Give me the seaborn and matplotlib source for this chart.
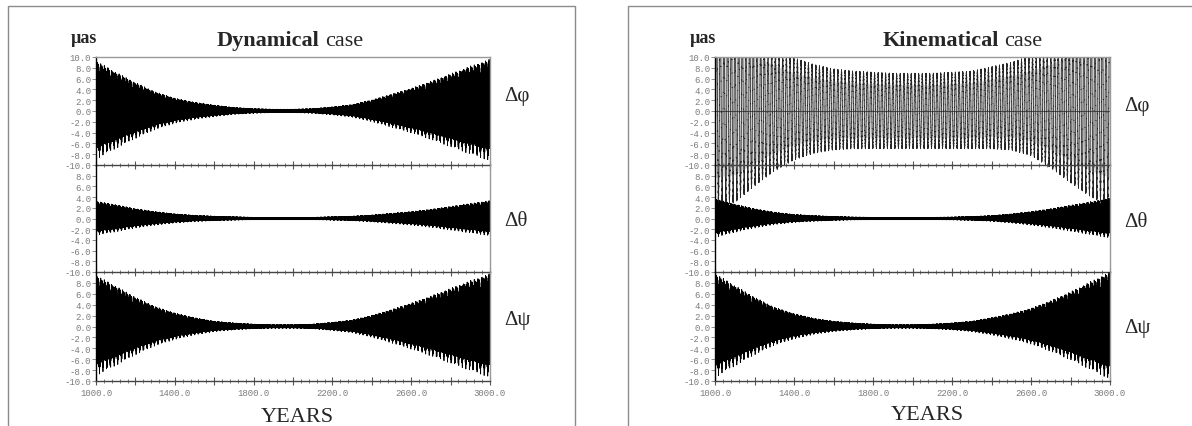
import numpy as np
import matplotlib
matplotlib.use("Agg")
import matplotlib.pyplot as plt
import seaborn as sns
from matplotlib.patches import Rectangle

# ---------------- data ----------------
env_years = [1000, 1100, 1200, 1300, 1400, 1500, 1600, 1700, 1800, 1900, 2000,
             2100, 2200, 2300, 2400, 2500, 2600, 2700, 2800, 2900, 3000]

# half-width of the oscillation envelope (µas)
dyn_dphi_amp = [8.6, 6.7, 4.9, 3.3, 2.2, 1.5, 1.0, 0.6, 0.4, 0.3, 0.3,
                0.4, 0.7, 1.1, 1.9, 2.9, 3.9, 5.1, 6.4, 7.7, 8.9]
dyn_dtheta_amp = [3.0, 2.4, 1.7, 1.2, 0.8, 0.55, 0.4, 0.3, 0.2, 0.15, 0.15,
                  0.2, 0.3, 0.4, 0.6, 0.9, 1.2, 1.6, 2.1, 2.6, 3.1]
dyn_dpsi_amp = [8.7, 6.9, 5.0, 3.4, 2.3, 1.5, 0.9, 0.6, 0.4, 0.3, 0.3,
                0.4, 0.7, 1.1, 1.9, 2.9, 4.0, 5.2, 6.5, 7.8, 9.0]

kin_dphi_amp = [17.5, 16.8, 13.8, 11.2, 9.2, 8.0, 7.3, 7.0, 6.9, 6.8, 6.8,
                6.8, 6.9, 7.0, 7.4, 7.9, 9.0, 11.0, 13.5, 15.8, 17.5]
kin_dphi_mid = [0.3, 0.3, 0.3, 0.4, 0.4, 0.4, 0.3, 0.2, 0.1, 0.0, 0.0,
                0.0, 0.1, 0.2, 0.6, 0.9, 1.0, 0.8, 0.6, 0.4, 0.3]
kin_dtheta_amp = [3.4, 2.5, 1.7, 1.1, 0.7, 0.5, 0.35, 0.25, 0.2, 0.15, 0.15,
                  0.2, 0.25, 0.35, 0.5, 0.8, 1.2, 1.7, 2.3, 2.9, 3.5]
kin_dpsi_amp = [9.0, 7.0, 5.0, 3.3, 2.2, 1.4, 0.9, 0.6, 0.4, 0.3, 0.3,
                0.4, 0.6, 0.9, 1.5, 2.2, 3.1, 4.4, 5.9, 7.6, 9.3]

# nutation periods (years) and weights of the carrier oscillation
carrier_periods = [0.5, 1.0, 0.3, 18.6, 9.3]
carrier_weights = [0.6, 0.24, 0.18, 0.12, 0.07]
carrier_phases = [0.0, 1.1, 2.3, 0.4, 2.0]
nodal_period = 18.6

panel_titles = [("Dynamical", "case"), ("Kinematical", "case")]
row_labels = ["Δφ", "Δθ", "Δψ"]
unit_label = "µas"
x_label = "YEARS"
x_range = (1000, 3000)
y_range = (-10, 10)

# ---------------- figure ----------------
sns.set_theme(style="white")
plt.rcParams["font.family"] = ["Liberation Serif", "DejaVu Serif"]
plt.rcParams["axes.unicode_minus"] = False
plt.rcParams["path.simplify"] = False

W, H = 1192, 427
fig = plt.figure(figsize=(W / 100, H / 100), dpi=100)
fig.patch.set_facecolor("white")

def fx(px):
    return px / W

def fy(py):
    return 1 - py / H

t = np.arange(x_range[0], x_range[1] + 1e-9, 0.02)
carrier = np.zeros_like(t)
for p, w, ph in zip(carrier_periods, carrier_weights, carrier_phases):
    carrier += w * np.sin(2 * np.pi * t / p + ph)

def env(a):
    return np.interp(t, env_years, a)

kin_mid = env(kin_dphi_mid)
kin_amp = env(kin_dphi_amp)
series = {
    0: [env(dyn_dphi_amp) * carrier, env(dyn_dtheta_amp) * carrier, env(dyn_dpsi_amp) * carrier],
    1: [kin_mid + kin_amp * np.sin(2 * np.pi * t / nodal_period + 0.3)
        + 0.03 * kin_amp * np.sin(2 * np.pi * t / 0.5),
        env(kin_dtheta_amp) * carrier, env(kin_dpsi_amp) * carrier],
}

rows = [(58, 166), (166, 273), (273, 382)]
panels = [(96, 490), (715, 1110)]

# panel frames
fig.add_artist(Rectangle((fx(8), -0.05), fx(575) - fx(8), fy(7) + 0.05,
                         transform=fig.transFigure, fill=False, ec="#8c8c8c", lw=1.0))
fig.add_artist(Rectangle((fx(628), -0.05), 1.1, fy(7) + 0.05,
                         transform=fig.transFigure, fill=False, ec="#8c8c8c", lw=1.0))

major_x = np.arange(1000, 3001, 200)
minor_x = np.arange(1000, 3001, 40)
mono = "Liberation Mono"
tick_grey = "#7c7c7c"

for pi, (x0, x1) in enumerate(panels):
    for ri, (y0, y1) in enumerate(rows):
        ax = fig.add_axes([fx(x0), fy(y1), fx(x1) - fx(x0), (y1 - y0) / H])
        ax.set_facecolor("none")
        y = series[pi][ri]
        kin_phi = (pi == 1 and ri == 0)
        if kin_phi:
            band = ax.fill_between(t, kin_mid - 0.72 * kin_amp, kin_mid + 0.72 * kin_amp,
                                   color="#9a9a9a", alpha=0.35, lw=0, zorder=1)
        ax.axhline(0, color="#555555", lw=0.8, zorder=1.5)
        sns.lineplot(x=t, y=y, ax=ax, color="#262626" if kin_phi else "black",
                     lw=0.55 if kin_phi else 0.6, estimator=None, errorbar=None,
                     sort=False, legend=False, zorder=2)
        line = ax.lines[-1]
        if kin_phi:
            for art in (line, band):
                clip = Rectangle((x_range[0], -30), x_range[1] - x_range[0], 40,
                                 transform=ax.transData)
                art.set_clip_path(clip)
        ax.set_xlim(*x_range)
        ax.set_ylim(*y_range)
        ax.set_xlabel("")
        ax.set_ylabel("")

        yt = np.arange(-10, 11 if ri == 0 else 9, 2)
        ax.set_yticks(yt, [f"{v:.1f}" for v in yt], fontfamily=mono,
                      fontsize=6.5, color=tick_grey)
        if ri == 2:
            ax.set_xticks(major_x, [f"{v:.1f}" if (v - 1000) % 400 == 0 else ""
                                    for v in major_x],
                          fontfamily=mono, fontsize=6.5, color=tick_grey)
        else:
            ax.set_xticks(major_x)
            ax.tick_params(axis="x", labelbottom=False)
        ax.set_xticks(minor_x, minor=True)
        ax.tick_params(axis="x", which="major", direction="inout", length=6,
                       width=0.8, color="#555555", pad=2, bottom=True)
        ax.tick_params(axis="x", which="minor", direction="inout", length=2.5,
                       width=0.6, color="#666666", bottom=True)
        ax.tick_params(axis="y", which="major", direction="out", length=3,
                       width=0.6, color=tick_grey, pad=0.5, left=True)

        for side in ["left", "right", "top", "bottom"]:
            ax.spines[side].set_visible(True)
        ax.spines["left"].set_color("black")
        ax.spines["left"].set_linewidth(1.0)
        ax.spines["bottom"].set_color("#444444")
        ax.spines["bottom"].set_linewidth(1.0)
        ax.spines["right"].set_color("#999999")
        ax.spines["right"].set_linewidth(1.0)
        ax.spines["top"].set_color("#999999")
        ax.spines["top"].set_linewidth(1.0)
        ax.spines["top"].set_visible(ri == 0)

# texts
unit_x = [71, 690]
title_split = [(319, 325), (999, 1004)]
title_base = 46
lab_x = [504, 1124]
lab_base = [[101, 226, 325], [111, 227, 333]]
years_x = [297, 927]
years_base = [422, 420]

for pi in range(2):
    fig.text(fx(unit_x[pi]), fy(43), unit_label, fontsize=13, fontweight="bold",
             ha="left", va="baseline")
    bold, normal = panel_titles[pi]
    fig.text(fx(title_split[pi][0]), fy(title_base), bold, fontsize=16,
             fontweight="bold", ha="right", va="baseline")
    fig.text(fx(title_split[pi][1]), fy(title_base), normal, fontsize=16,
             ha="left", va="baseline")
    for ri in range(3):
        fig.text(fx(lab_x[pi]), fy(lab_base[pi][ri]), row_labels[ri], fontsize=15,
                 ha="left", va="baseline")
    fig.text(fx(years_x[pi]), fy(years_base[pi]), x_label, fontsize=16,
             ha="center", va="baseline")

fig.savefig("out.png", dpi=100, facecolor="white")
